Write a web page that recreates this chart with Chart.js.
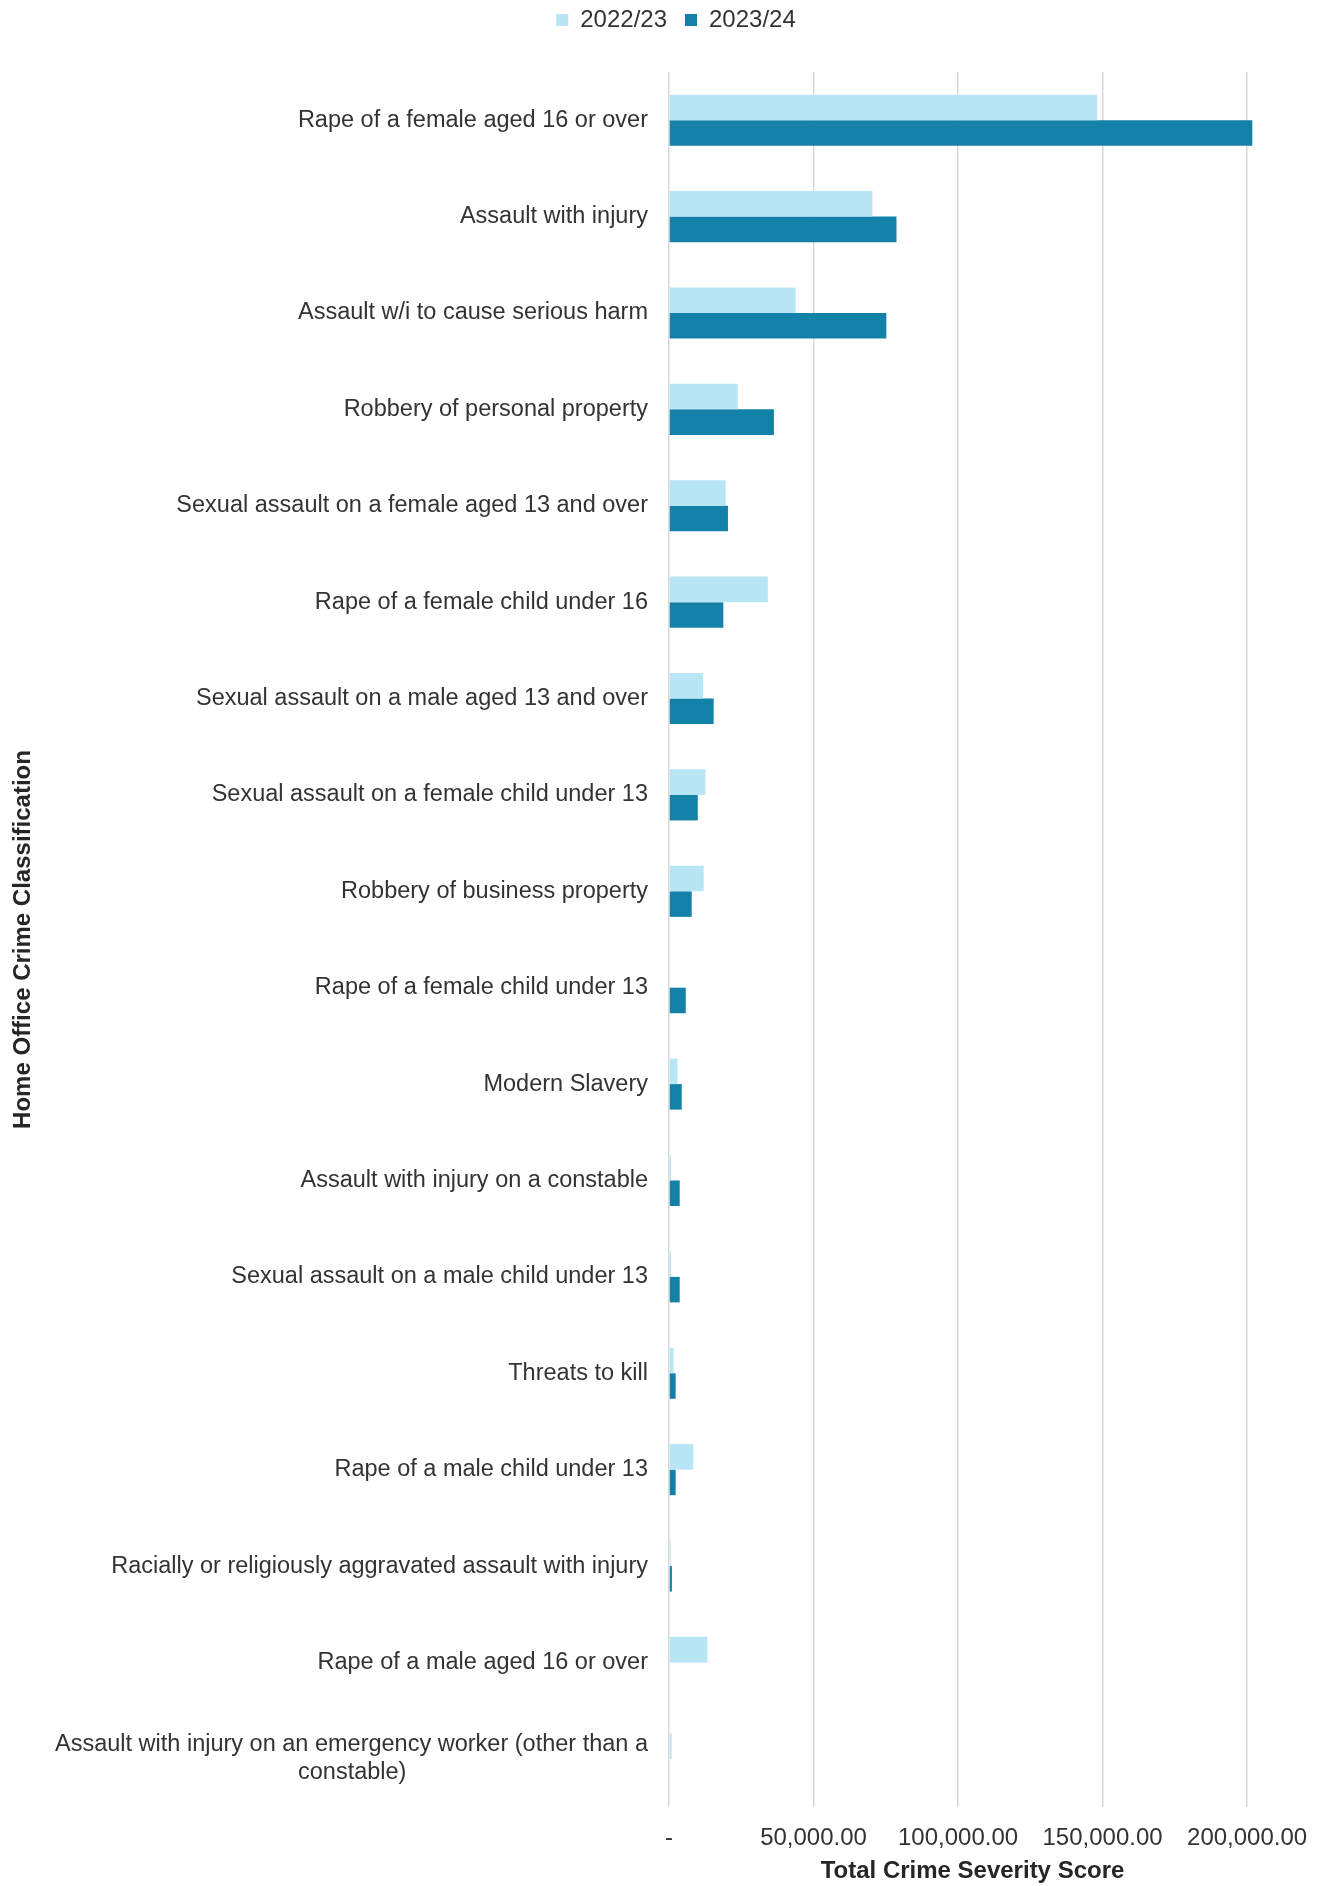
<!DOCTYPE html>
<html>
<head>
<meta charset="utf-8">
<script src="https://cdn.jsdelivr.net/npm/chart.js@4.4.1/dist/chart.umd.min.js"></script>
<style>
  html, body { margin: 0; padding: 0; background: #fff; }
  #wrap { width: 1322px; height: 1886px; position: relative; }
</style>
</head>
<body>
<div id="wrap"><canvas id="severityChart"></canvas></div>
<script>
const categories = [
  "Rape of a female aged 16 or over",
  "Assault with injury",
  "Assault w/i to cause serious harm",
  "Robbery of personal property",
  "Sexual assault on a female aged 13 and over",
  "Rape of a female child under 16",
  "Sexual assault on a male aged 13 and over",
  "Sexual assault on a female child under 13",
  "Robbery of business property",
  "Rape of a female child under 13",
  "Modern Slavery",
  "Assault with injury on a constable",
  "Sexual assault on a male child under 13",
  "Threats to kill",
  "Rape of a male child under 13",
  "Racially or religiously aggravated assault with injury",
  "Rape of a male aged 16 or over",
  ["Assault with injury on an emergency worker (other than a", "constable)"],
];

const score2223 = [148100, 70400, 43800, 23800, 19600, 34200, 11800, 12600, 12000, 0, 2950, 700, 700, 1600, 8400, 600, 13300, 900];
const score2324 = [201800, 78700, 75200, 36300, 20400, 18800, 15450, 9950, 7850, 5800, 4400, 3700, 3700, 2300, 2300, 1000, 0, 0];

const tickValues = [0, 50000, 100000, 150000, 200000];
const tickLabels = ["-", "50,000.00", "100,000.00", "150,000.00", "200,000.00"];

const LIGHT = "#b8e6f5";
const DARK = "#1481a8";
const TEXT = "#333333";
const FONT = "'Liberation Sans', Arial, sans-serif";

// centre the short lines of a wrapped label under its longest line
const measure = document.createElement("canvas").getContext("2d");
function centreLines(label) {
  if (!Array.isArray(label)) return label;
  measure.font = "23.5px " + FONT;
  const widths = label.map(l => measure.measureText(l).width);
  const full = Math.max(...widths);
  const sp = measure.measureText("\u00a0").width;
  return label.map((l, i) => l + "\u00a0".repeat(Math.round((full - widths[i]) / 2 / sp)));
}

// legend sits near the top edge, a little right of centre, with room below it
const legendPlacement = {
  id: "legendPlacement",
  beforeInit(chart) {
    const fit = chart.legend.fit;
    chart.legend.fit = function () {
      fit.bind(chart.legend)();
      this.height += 20;
    };
  },
  afterUpdate(chart) {
    const lg = chart.legend;
    lg.left += 38;
    lg.right += 38;
    lg.top -= 10;
    lg.bottom -= 10;
  },
};

const ctx = document.getElementById("severityChart");

new Chart(ctx, {
  type: "bar",
  data: {
    labels: categories,
    datasets: [
      {
        label: "2022/23",
        data: score2223,
        backgroundColor: LIGHT,
        borderWidth: 0,
      },
      {
        label: "2023/24",
        data: score2324,
        backgroundColor: DARK,
        borderWidth: 0,
      },
    ],
  },
  options: {
    indexAxis: "y",
    responsive: true,
    maintainAspectRatio: false,
    animation: false,
    datasets: {
      bar: { categoryPercentage: 0.53, barPercentage: 1 },
    },
    layout: { padding: { left: 0, right: 46, top: 0, bottom: 0 } },
    plugins: {
      tooltip: { enabled: false },
      legend: {
        position: "top",
        labels: {
          boxWidth: 12,
          boxHeight: 12,
          padding: 18,
          color: TEXT,
          font: { family: FONT, size: 24 },
        },
      },
    },
    scales: {
      x: {
        min: 0,
        max: 210000,
        afterBuildTicks(scale) {
          scale.ticks = tickValues.map(v => ({ value: v }));
        },
        afterFit(scale) {
          scale.height = 79;
          scale.paddingLeft = 0;
          scale.paddingRight = 0;
        },
        border: { display: false },
        grid: { color: "#d9d9d9", lineWidth: 1.5, drawTicks: false },
        ticks: {
          padding: 17,
          color: TEXT,
          font: { family: FONT, size: 24 },
          callback: value => tickLabels[tickValues.indexOf(value)],
        },
        title: {
          display: true,
          text: "Total Crime Severity Score",
          color: "#262626",
          font: { family: FONT, size: 24, weight: "bold" },
          padding: { top: 6, bottom: 0 },
        },
      },
      y: {
        afterFit(scale) {
          scale.width = 669;
        },
        border: { display: false },
        grid: { display: false, drawTicks: false },
        ticks: {
          padding: 21,
          color: TEXT,
          font: { family: FONT, size: 23.5 },
          autoSkip: false,
          callback: function (value) {
            return centreLines(categories[value]);
          },
        },
        title: {
          display: true,
          text: "Home Office Crime Classification",
          color: "#262626",
          font: { family: FONT, size: 24, weight: "bold" },
          padding: { top: 9, bottom: 4 },
        },
      },
    },
  },
  plugins: [legendPlacement],
});
</script>
</body>
</html>
